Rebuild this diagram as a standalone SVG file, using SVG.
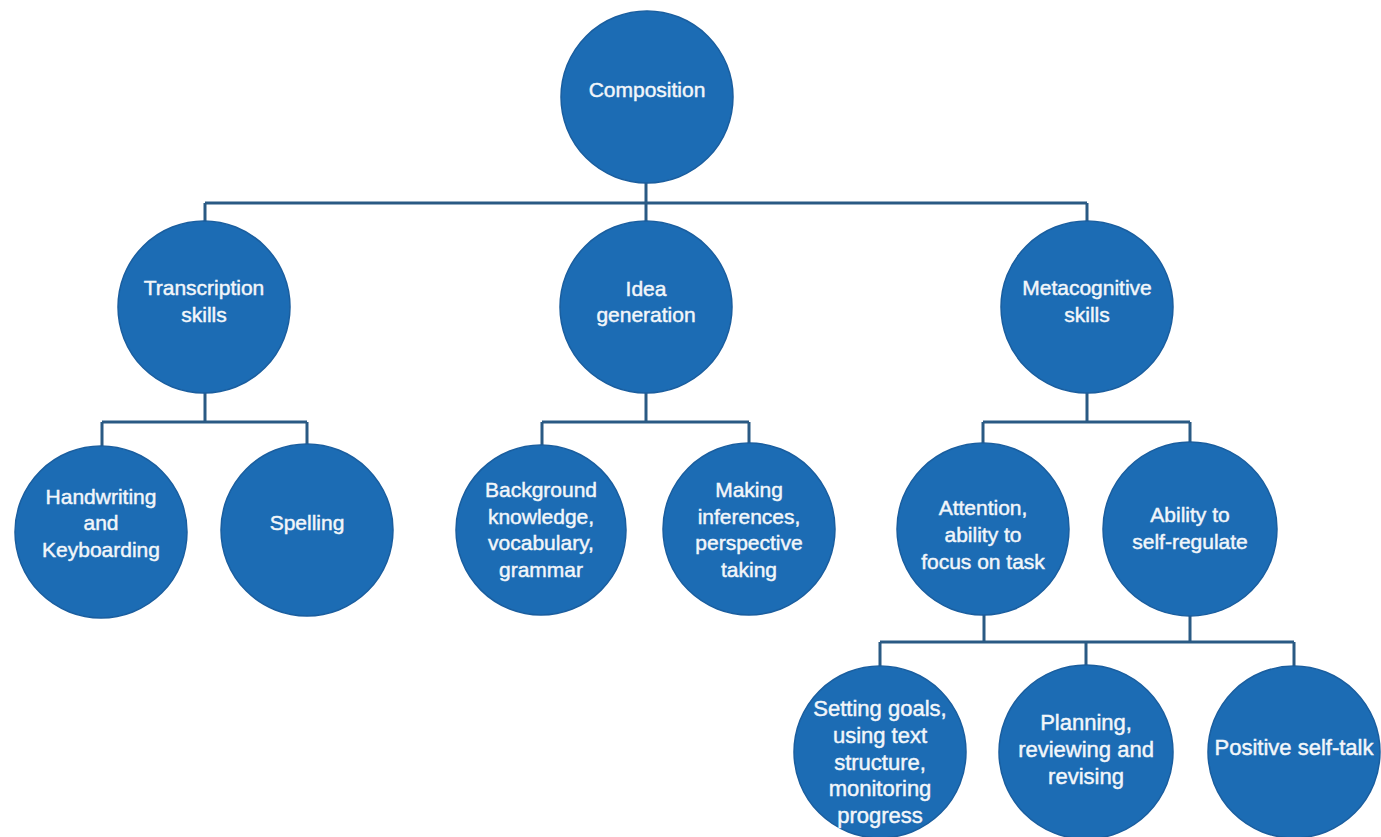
<svg xmlns="http://www.w3.org/2000/svg" width="1381" height="837" viewBox="0 0 1381 837">
  <style>
    .node circle { fill: #1c6cb4; stroke: #1a5e9f; stroke-width: 1.5; }
    .node text { fill: #f2f6fa; stroke: #f2f6fa; stroke-width: 0.45; font-family: "Liberation Sans", Arial, sans-serif; font-size: 21px; text-anchor: middle; }
    .node text.big { font-size: 22px; }
    .conn path { fill: none; stroke: #2a5a84; stroke-width: 3; }
  </style>
  <rect width="1381" height="837" fill="#ffffff"/>
  <g id="connectors" class="conn">
    <path d="M646 182 V203 M205 203 H1087 M205 203 V222 M646 203 V222 M1087 203 V222"/>
    <path d="M205 392 V422 M102 422 H307 M102 422 V446 M307 422 V445"/>
    <path d="M646 392 V422 M542 422 H749 M542 422 V445 M749 422 V444"/>
    <path d="M1087 392 V422 M983 422 H1190 M983 422 V443 M1190 422 V443"/>
    <path d="M984 614 V642 M1190 615 V642 M880 642 H1294 M880 642 V666 M1086 642 V665 M1294 642 V666"/>
  </g>
  <g id="composition" class="node">
    <circle cx="647" cy="97" r="86"/>
    <text x="647" y="97">Composition</text>
  </g>
  <g id="transcription" class="node">
    <circle cx="204" cy="307" r="86"/>
    <text x="204" y="295">Transcription</text>
    <text x="204" y="322">skills</text>
  </g>
  <g id="idea" class="node">
    <circle cx="646" cy="307" r="86"/>
    <text x="646" y="296">Idea</text>
    <text x="646" y="322">generation</text>
  </g>
  <g id="metacognitive" class="node">
    <circle cx="1087" cy="307" r="86"/>
    <text x="1087" y="295">Metacognitive</text>
    <text x="1087" y="322">skills</text>
  </g>
  <g id="handwriting" class="node">
    <circle cx="101" cy="532" r="86"/>
    <text x="101" y="504">Handwriting</text>
    <text x="101" y="530">and</text>
    <text x="101" y="557">Keyboarding</text>
  </g>
  <g id="spelling" class="node">
    <circle cx="307" cy="530" r="86"/>
    <text x="307" y="530">Spelling</text>
  </g>
  <g id="background" class="node">
    <circle cx="541" cy="530" r="85"/>
    <text x="541" y="497">Background</text>
    <text x="541" y="524">knowledge,</text>
    <text x="541" y="550">vocabulary,</text>
    <text x="541" y="577">grammar</text>
  </g>
  <g id="inferences" class="node">
    <circle cx="749" cy="529" r="86"/>
    <text x="749" y="497">Making</text>
    <text x="749" y="524">inferences,</text>
    <text x="749" y="550">perspective</text>
    <text x="749" y="577">taking</text>
  </g>
  <g id="attention" class="node">
    <circle cx="983" cy="529" r="86"/>
    <text x="983" y="515">Attention,</text>
    <text x="983" y="542">ability to</text>
    <text x="983" y="569">focus on task</text>
  </g>
  <g id="selfregulate" class="node">
    <circle cx="1190" cy="529" r="87"/>
    <text x="1190" y="522">Ability to</text>
    <text x="1190" y="549">self-regulate</text>
  </g>
  <g id="goals" class="node">
    <circle cx="880" cy="752" r="86"/>
    <text class="big" x="880" y="716">Setting goals,</text>
    <text class="big" x="880" y="743">using text</text>
    <text class="big" x="880" y="770">structure,</text>
    <text class="big" x="880" y="796">monitoring</text>
    <text class="big" x="880" y="823">progress</text>
  </g>
  <g id="planning" class="node">
    <circle cx="1086" cy="752" r="87"/>
    <text class="big" x="1086" y="730">Planning,</text>
    <text class="big" x="1086" y="757">reviewing and</text>
    <text class="big" x="1086" y="784">revising</text>
  </g>
  <g id="selftalk" class="node">
    <circle cx="1294" cy="752" r="86"/>
    <text class="big" x="1294" y="755">Positive self-talk</text>
  </g>
</svg>
